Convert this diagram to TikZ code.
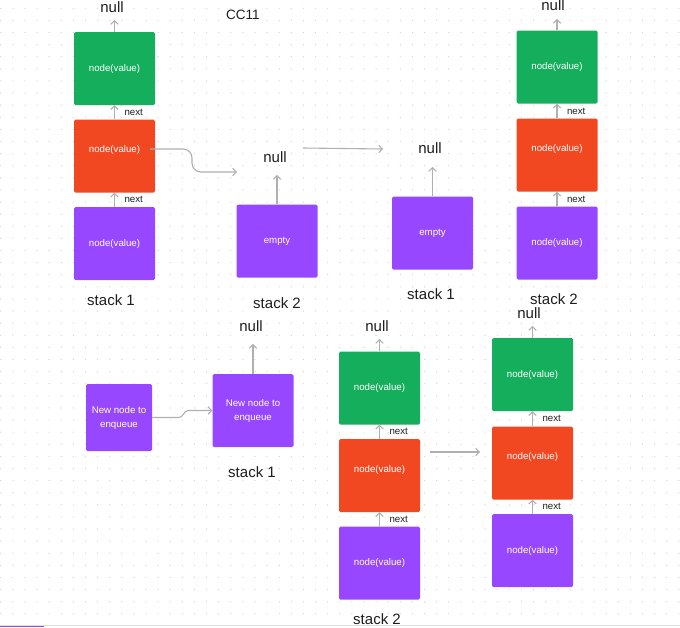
\documentclass[tikz,border=0pt]{standalone}
\usepackage{fontspec}
\setmainfont{Liberation Sans}
\usetikzlibrary{arrows.meta}
\definecolor{fjgreen}{HTML}{14AE5C}
\definecolor{fjred}{HTML}{F24822}
\definecolor{fjviolet}{HTML}{9747FF}
\definecolor{arrowgray}{HTML}{B0B0B0}
\definecolor{dotgray}{HTML}{D2D2D2}
\definecolor{ink}{HTML}{1E1E1E}
\tikzset{
  box/.style={rectangle, rounded corners=1.5pt, inner sep=0pt, minimum width=81pt, minimum height=73pt,
    text=white, font=\fontsize{9.7}{14}\selectfont, align=center},
  gbox/.style={box, fill=fjgreen},
  rbox/.style={box, fill=fjred, text height=7pt, text depth=14pt},
  vbox/.style={box, fill=fjviolet},
  biglbl/.style={inner sep=0pt, text=ink, font=\fontsize{15}{17}\selectfont},
  titlelbl/.style={inner sep=0pt, text=ink, font=\fontsize{13.5}{16}\selectfont},
  nextlbl/.style={inner sep=0pt, text=ink, font=\fontsize{9.7}{11}\selectfont, anchor=west, xshift=9.5pt},
  arr/.style={draw=arrowgray, line width=1.1pt, -{Straight Barb[length=3.5pt,width=7.5pt]}},
}
\begin{document}
\begin{tikzpicture}[x=1pt,y=-1pt]
\useasboundingbox (0,0) rectangle (680,627);
\fill[white] (0,0) rectangle (680,627);
% dot grid
\foreach \i in {0,...,56}{
  \foreach \j in {0,...,50}{
    \fill[dotgray] (0.7+12.11*\i,8.3+12.11*\j) circle (0.65);
  }
}
% bottom bar
\draw[gray!25, line width=0.8pt] (0,625) -- (680,625);
\fill[fjviolet] (0,626) rectangle (44,627);

% title
\node[titlelbl] (title) at (243,15) {CC11};

% ---- stack 1 (top left)
\node[gbox] (g1) at (114.5,68.5) {node(value)};
\node[rbox] (r1) at (114.5,156) {node(value)};
\node[vbox] (v1) at (114.5,243.5) {node(value)};
\node[biglbl] (n1) at (112,7) {null};
\coordinate (t1) at (114.5,20);
\draw[arr] (g1.north) -- (t1);
\draw[arr] (r1.north) -- node[nextlbl] {next} (g1.south);
\draw[arr] (v1.north) -- node[nextlbl] {next} (r1.south);
\node[biglbl] (s1) at (111,300) {stack 1};

% curved move arrow
\coordinate (c0) at (150,149);
\coordinate (c1) at (237,172);
\draw[arr, rounded corners=9pt] (c0) -- (192,149) -- (192,172) -- (c1);

% ---- stack 2 empty
\node[vbox] (e2) at (277,241) {empty};
\node[biglbl] (n2) at (275,157) {null};
\coordinate (t2) at (277,175);
\draw[arr] (e2.north) -- (t2);
\node[biglbl] (s2) at (277,303) {stack 2};

% straight arrow
\coordinate (m0) at (303,148);
\coordinate (m1) at (383,149);
\draw[arr] (m0) -- (m1);

% ---- stack 1 empty
\node[vbox] (e3) at (432.5,233) {empty};
\node[biglbl] (n3) at (430,148) {null};
\coordinate (t3) at (432.5,167);
\draw[arr] (e3.north) -- (t3);
\node[biglbl] (s3) at (431,294) {stack 1};

% ---- stack 2 (top right)
\node[gbox] (g4) at (557,67) {node(value)};
\node[rbox] (r4) at (557,155) {node(value)};
\node[vbox] (v4) at (557,243) {node(value)};
\node[biglbl] (n4) at (553,5) {null};
\coordinate (t4) at (557,19);
\draw[arr] (g4.north) -- (t4);
\draw[arr] (r4.north) -- node[nextlbl] {next} (g4.south);
\draw[arr] (v4.north) -- node[nextlbl] {next} (r4.south);
\node[biglbl] (s4) at (554,299) {stack 2};

% ---- enqueue
\node[vbox, minimum width=66pt, minimum height=67pt] (q1) at (119,417.5) {New node to\\enqueue};
\node[vbox] (q2) at (253,410.5) {New node to\\enqueue};
\draw[arr] (q1.east) -- (179,417.5) to[out=0,in=180] (188,410.5) -- (q2.west);
\node[biglbl] (n5) at (251,326) {null};
\coordinate (t5) at (253,344);
\draw[arr] (q2.north) -- (t5);
\node[biglbl] (s5) at (252,472) {stack 1};

% ---- stack 2 (bottom left)
\node[gbox] (g6) at (379.5,388) {node(value)};
\node[rbox] (r6) at (379.5,475.5) {node(value)};
\node[vbox] (v6) at (379.5,563) {node(value)};
\node[biglbl] (n6) at (377,326) {null};
\coordinate (t6) at (379.5,339);
\draw[arr] (g6.north) -- (t6);
\draw[arr] (r6.north) -- node[nextlbl] {next} (g6.south);
\draw[arr] (v6.north) -- node[nextlbl] {next} (r6.south);
\node[biglbl] (s6) at (377,619) {stack 2};

% bottom straight arrow
\coordinate (b0) at (430,452);
\coordinate (b1) at (480,452);
\draw[arr] (b0) -- (b1);

% ---- stack (bottom right)
\node[gbox] (g7) at (532.5,374.5) {node(value)};
\node[rbox] (r7) at (532.5,463) {node(value)};
\node[vbox] (v7) at (532.5,550.5) {node(value)};
\node[biglbl] (n7) at (529,313) {null};
\coordinate (t7) at (532.5,326);
\draw[arr] (g7.north) -- (t7);
\draw[arr] (r7.north) -- node[nextlbl] {next} (g7.south);
\draw[arr] (v7.north) -- node[nextlbl] {next} (r7.south);
\end{tikzpicture}
\end{document}
